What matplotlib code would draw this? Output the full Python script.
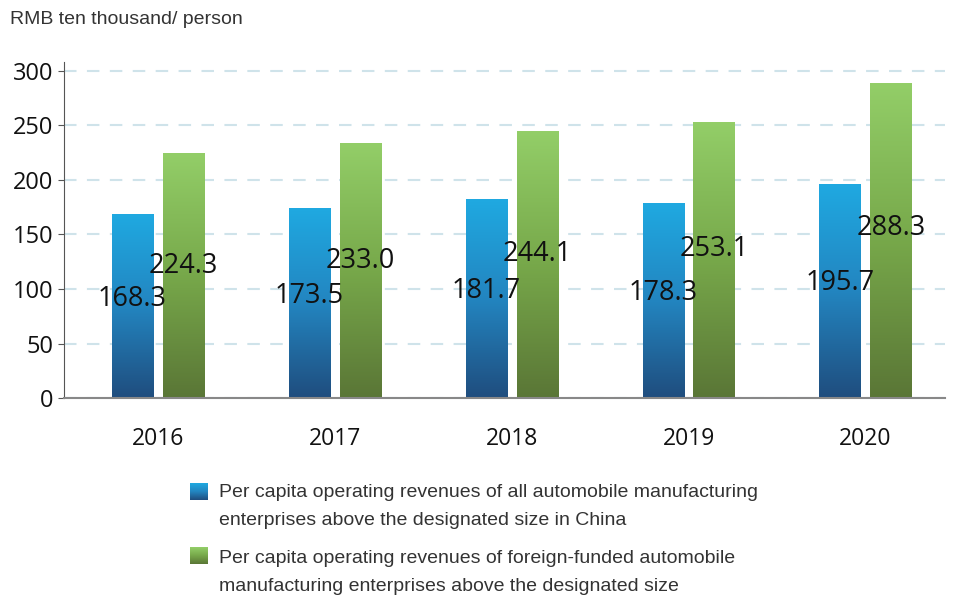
import matplotlib.pyplot as plt
import numpy as np
from matplotlib.colors import LinearSegmentedColormap

# data
years = ["2016", "2017", "2018", "2019", "2020"]
all_enterprises = [168.3, 173.5, 181.7, 178.3, 195.7]
foreign_funded = [224.3, 233.0, 244.1, 253.1, 288.3]
legend_labels = [
    "Per capita operating revenues of all automobile manufacturing\nenterprises above the designated size in China",
    "Per capita operating revenues of foreign-funded automobile\nmanufacturing enterprises above the designated size",
]
y_unit = "RMB ten thousand/ person"

blue_cmap = LinearSegmentedColormap.from_list("blue", ["#1f4d7e", "#2385c0", "#1fa9e1"])
green_cmap = LinearSegmentedColormap.from_list("green", ["#5a7636", "#77a84a", "#93ce68"])

num_font = "Open Sans"
txt_font = "Liberation Sans"

fig = plt.figure(figsize=(9.57, 6.04), dpi=100)
ax = fig.add_axes([0.0669, 0.341, 0.9206, 0.556])

x = np.arange(len(years))
w = 0.232
off = 0.144

def gradient_bars(xs, vals, cmap):
    bars = ax.bar(xs, vals, w, color="none", edgecolor="none", zorder=2)
    grad = np.linspace(0, 1, 256).reshape(-1, 1)
    for b in bars:
        x0, y0 = b.get_x(), b.get_y()
        ax.imshow(grad, cmap=cmap, origin="lower", aspect="auto",
                  extent=[x0, x0 + b.get_width(), y0, y0 + b.get_height()], zorder=2)
    return bars

gradient_bars(x - off, all_enterprises, blue_cmap)
gradient_bars(x + off, foreign_funded, green_cmap)

# value labels sit roughly mid-bar
for xi, v in zip(x - off, all_enterprises):
    ax.text(xi, v * 0.54, f"{v:.1f}", ha="center", va="center", fontsize=19.5,
            family=num_font, color="#111111", zorder=3)
for xi, v in zip(x + off, foreign_funded):
    ax.text(xi, v * 0.54, f"{v:.1f}", ha="center", va="center", fontsize=19.5,
            family=num_font, color="#111111", zorder=3)

ax.set_xlim(-0.53, 4.45)
ax.set_ylim(0, 308)
ax.set_yticks(range(0, 301, 50))
ax.set_xticks(x)
ax.set_xticklabels(years)
ax.grid(axis="y", color="#cfe3ea", linestyle=(0, (6, 5)), linewidth=1.5, zorder=1)
ax.set_axisbelow(True)
for s in ["top", "right"]:
    ax.spines[s].set_visible(False)
ax.spines["left"].set_color("#555555")
ax.spines["bottom"].set_color("#888888")
ax.spines["bottom"].set_linewidth(1.5)
ax.tick_params(axis="x", length=0, pad=21, labelsize=16.5)
ax.tick_params(axis="y", length=4, color="#555555", labelsize=17)
for lab in ax.get_xticklabels() + ax.get_yticklabels():
    lab.set_family(num_font)
    lab.set_color("#111111")

fig.text(0.0105, 0.968, y_unit, fontsize=14, family=txt_font, color="#333333", va="center")

# manual legend with gradient squares
grad = np.linspace(0, 1, 64).reshape(-1, 1)
legend_y = [0.1614, 0.0522]
square_y = [0.187, 0.08]
for ly, sy, cmap, label in zip(legend_y, square_y, [blue_cmap, green_cmap], legend_labels):
    sq = fig.add_axes([0.1985, sy - 0.014, 0.0178, 0.028])
    sq.imshow(grad, cmap=cmap, origin="lower", aspect="auto")
    sq.axis("off")
    fig.text(0.2288, ly, label, fontsize=14, family=txt_font, color="#333333",
             va="center", linespacing=1.85)

fig.savefig("out.png", dpi=100)
